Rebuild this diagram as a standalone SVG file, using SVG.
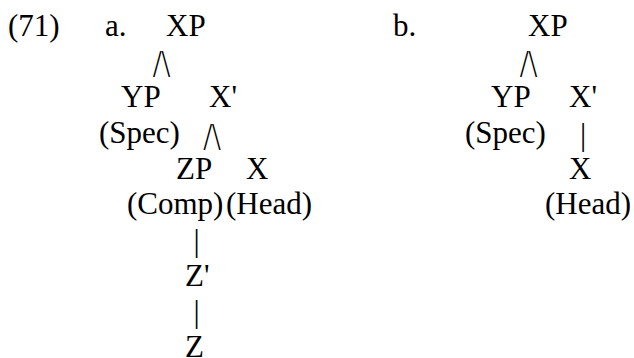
<svg xmlns="http://www.w3.org/2000/svg" width="634" height="358" viewBox="0 0 634 358" font-family="'Liberation Serif', 'Times New Roman', serif" font-size="31">
<style>
text{fill:#000}
.sl{font-size:31px}
</style>
<rect width="634" height="358" fill="#fff"/>
<g id="labels">
<text x="8" y="36">(71)</text>
<text x="105" y="36">a.</text>
<text x="393" y="36">b.</text>
</g>
<g id="a-XP"><text x="166" y="36">XP</text></g>
<g id="a-YP"><text x="121" y="107">YP</text><text x="99" y="143">(Spec)</text></g>
<g id="a-Xbar"><text x="209" y="107">X'</text></g>
<g id="a-ZP"><text x="176" y="179">ZP</text><text x="127" y="214">(Comp)</text></g>
<g id="a-X"><text x="246" y="179">X</text><text x="226" y="214">(Head)</text></g>
<g id="a-Zbar"><text x="185" y="286">Z'</text></g>
<g id="a-Z"><text x="185" y="357">Z</text></g>
<g id="b-XP"><text x="528" y="36">XP</text></g>
<g id="b-YP"><text x="491" y="107">YP</text><text x="465" y="143">(Spec)</text></g>
<g id="b-Xbar"><text x="569" y="107">X'</text></g>
<g id="b-X"><text x="569" y="179">X</text><text x="545" y="214">(Head)</text></g>
<g id="connectors">
<text class="sl" transform="translate(153,76.5) scale(1,1.27)">/\</text>
<text class="sl" transform="translate(203.5,149.5) scale(1,1.27)">/\</text>
<text class="sl" transform="translate(520,76.5) scale(1,1.27)">/\</text>
<text x="193.5" y="251">|</text>
<text x="193.5" y="322">|</text>
<text x="580" y="145">|</text>
</g>
</svg>
